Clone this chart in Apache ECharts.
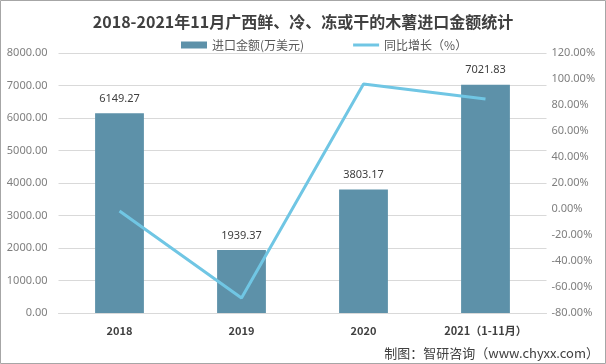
<!DOCTYPE html>
<html><head><meta charset="utf-8">
<script src="https://cdn.jsdelivr.net/npm/echarts@6/dist/echarts.min.js"></script>
<style>html,body{margin:0;padding:0;background:#fff}#c{width:606px;height:364px}</style>
</head><body><div id="c"></div>
<script>
const categories = ['2018', '2019', '2020', '2021（1-11月）'];
const importValue = [6149.27, 1939.37, 3803.17, 7021.83];
const growthRate = [-1.5, -68.46, 96.10, 84.63];
const leftTicks = [0, 8000, 1000];
const rightTicks = [-80, 120, 20];

const chart = echarts.init(document.getElementById('c'));
chart.setOption({
  backgroundColor: '#fff',
  animation: false,
  title: {
    text: '2018-2021年11月广西鲜、冷、冻或干的木薯进口金额统计',
    left: 'center', top: 9,
    textStyle: {fontSize: 16, fontWeight: 'bold', color: '#404040', fontFamily: 'Noto Sans CJK SC'}
  },
  legend: {
    top: 34, left: 176, itemGap: 49, itemWidth: 26, itemHeight: 7,
    textStyle: {fontSize: 12, color: '#595959', fontFamily: 'Noto Sans CJK SC'},
    data: [{name: '进口金额(万美元)', icon: 'rect'},
           {name: '同比增长（%）', icon: 'path://M0,0 H26 V3 H0 Z', itemStyle: {color: '#70c6e4'}}]
  },
  grid: {left: 58.5, right: 59.5, top: 53, bottom: 51, containLabel: false},
  xAxis: {
    type: 'category', data: categories,
    axisLine: {lineStyle: {color: '#d9d9d9'}},
    axisTick: {show: false},
    axisLabel: {fontSize: 11, fontWeight: 'bold', color: '#404040', margin: 12, fontFamily: 'Noto Sans CJK SC'}
  },
  yAxis: [{
    type: 'value', min: leftTicks[0], max: leftTicks[1], interval: leftTicks[2],
    axisLine: {show: false}, axisTick: {show: false},
    splitLine: {lineStyle: {color: '#d9d9d9'}},
    axisLabel: {fontSize: 11, color: '#7f7f7f', margin: 11, formatter: v => v.toFixed(2), fontFamily: 'Noto Sans'}
  }, {
    type: 'value', min: rightTicks[0], max: rightTicks[1], interval: rightTicks[2],
    axisLine: {show: false}, axisTick: {show: false}, splitLine: {show: false},
    axisLabel: {fontSize: 11, color: '#7f7f7f', margin: 5, formatter: v => v.toFixed(2) + '%', fontFamily: 'Noto Sans'}
  }],
  series: [{
    name: '进口金额(万美元)', type: 'bar', data: importValue, barWidth: '40%',
    itemStyle: {color: '#5d91a9'},
    label: {show: true, position: 'top', distance: 9, fontSize: 11, color: '#404040', formatter: p => p.value.toFixed(2), fontFamily: 'Noto Sans'}
  }, {
    name: '同比增长（%）', type: 'line', yAxisIndex: 1, data: growthRate,
    symbol: 'none', lineStyle: {color: '#70c6e4', width: 3}, itemStyle: {color: '#70c6e4'}
  }],
  graphic: [{
    type: 'rect', shape: {x: 0.5, y: 0.5, width: 605, height: 363},
    style: {fill: 'none', stroke: '#a6a6a6', lineWidth: 1}
  }, {
    type: 'text', right: 7, bottom: 4,
    style: {text: '制图：智研咨询（www.chyxx.com）', fontSize: 13, fill: '#404040', fontFamily: 'Noto Sans CJK SC'}
  }]
});
</script></body></html>
